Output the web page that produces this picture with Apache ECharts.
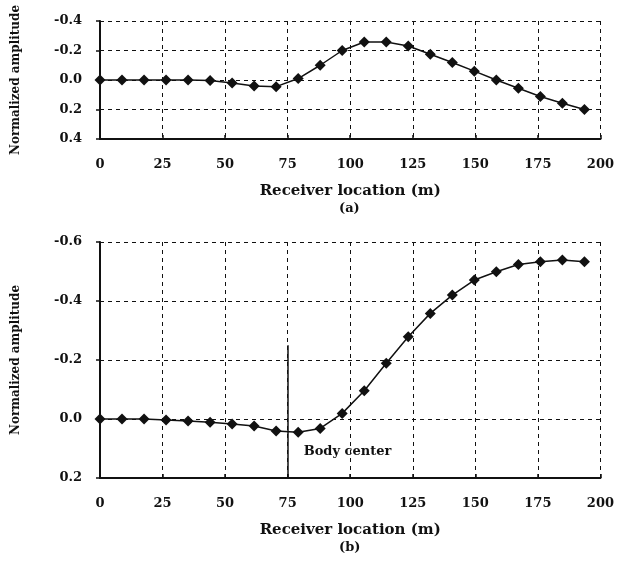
<!DOCTYPE html>
<html>
<head>
<meta charset="utf-8">
<script src="https://cdn.jsdelivr.net/npm/echarts@6/dist/echarts.min.js"></script>
<style>
  html, body { margin: 0; padding: 0; background: #fff; }
  #chart { width: 617px; height: 564px; }
</style>
</head>
<body>
<div id="chart"></div>
<script>
// receiver positions (m)
const receiverX = [0, 8.8, 17.6, 26.4, 35.2, 44, 52.8, 61.6, 70.4, 79.2, 88, 96.8,
  105.6, 114.4, 123.2, 132, 140.8, 149.6, 158.4, 167.2, 176, 184.8, 193.6];

// panel (a)
const ampA = [0, 0, 0, 0, 0, 0.003, 0.02, 0.04, 0.045, -0.01, -0.1, -0.2,
  -0.258, -0.258, -0.231, -0.175, -0.119, -0.06, 0, 0.056, 0.112, 0.157, 0.2];

// panel (b)
const ampB = [0, 0, 0, 0.003, 0.007, 0.011, 0.017, 0.024, 0.041, 0.045, 0.032, -0.019,
  -0.096, -0.189, -0.279, -0.358, -0.42, -0.471, -0.499, -0.524, -0.533, -0.539, -0.533];

const bodyCenter = 75;
const bodyLineSpan = [0.2, -0.25];

const serif = '"DejaVu Serif", "Liberation Serif", serif';

const chart = echarts.init(document.getElementById('chart'));

const gridLine = { show: true, lineStyle: { color: '#111', type: [4, 4], width: 1 } };

function xAxisFor(gridIndex) {
  return {
    type: 'value', gridIndex, min: 0, max: 200, interval: 25,
    name: 'Receiver location (m)', nameLocation: 'middle', nameGap: 45,
    nameTextStyle: { fontFamily: serif, fontSize: 15, fontWeight: 'bold', color: '#111' },
    axisLine: { onZero: false, lineStyle: { color: '#111', width: 2 } },
    axisTick: { show: true, length: 4, inside: true, lineStyle: { color: '#111', width: 1.5 } },
    axisLabel: { fontFamily: serif, fontSize: 13, fontWeight: 'bold', color: '#111', margin: 19 },
    splitLine: gridLine
  };
}

function yAxisFor(gridIndex, min, max) {
  return {
    type: 'value', gridIndex, min, max, interval: 0.2, inverse: true,
    name: 'Normalized amplitude', nameLocation: 'middle', nameGap: 78,
    nameTextStyle: { fontFamily: serif, fontSize: 12, fontWeight: 'bold', color: '#111' },
    axisLine: { onZero: false, lineStyle: { color: '#111', width: 2 } },
    axisTick: { show: true, length: 4, lineStyle: { color: '#111', width: 1.5 } },
    axisLabel: {
      fontFamily: serif, fontSize: 13, fontWeight: 'bold', color: '#111', margin: 18,
      formatter: v => v.toFixed(1)
    },
    splitLine: gridLine
  };
}

function lineSeries(idx, values) {
  return {
    type: 'line', xAxisIndex: idx, yAxisIndex: idx,
    data: receiverX.map((x, i) => [x, values[i]]),
    symbol: 'diamond', symbolSize: 11, showAllSymbol: true,
    lineStyle: { color: '#111', width: 1.5 },
    itemStyle: { color: '#111' },
    z: 3
  };
}

const seriesB = lineSeries(1, ampB);
seriesB.markLine = {
  silent: true, symbol: 'none', animation: false,
  lineStyle: { color: '#111', type: 'solid', width: 1.5 },
  label: { show: false },
  data: [[{ coord: [bodyCenter, bodyLineSpan[0]] }, { coord: [bodyCenter, bodyLineSpan[1]] }]]
};
seriesB.markPoint = {
  silent: true, symbol: 'circle', symbolSize: 0, animation: false,
  label: {
    show: true, position: 'right', distance: 16, formatter: 'Body center',
    fontFamily: serif, fontSize: 13, fontWeight: 'bold', color: '#111'
  },
  data: [{ coord: [bodyCenter, 0.11] }]
};

chart.setOption({
  animation: false,
  backgroundColor: '#fff',
  grid: [
    { left: 100, right: 15, top: 21, height: 118 },
    { left: 100, right: 15, top: 242, height: 236 }
  ],
  xAxis: [xAxisFor(0), xAxisFor(1)],
  yAxis: [yAxisFor(0, -0.4, 0.4), yAxisFor(1, -0.6, 0.2)],
  series: [lineSeries(0, ampA), seriesB],
  graphic: [
    { type: 'text', left: 339, top: 202,
      style: { text: '(a)', font: 'bold 13px ' + serif, fill: '#111' } },
    { type: 'text', left: 339, top: 541,
      style: { text: '(b)', font: 'bold 13px ' + serif, fill: '#111' } }
  ]
});
</script>
</body>
</html>
